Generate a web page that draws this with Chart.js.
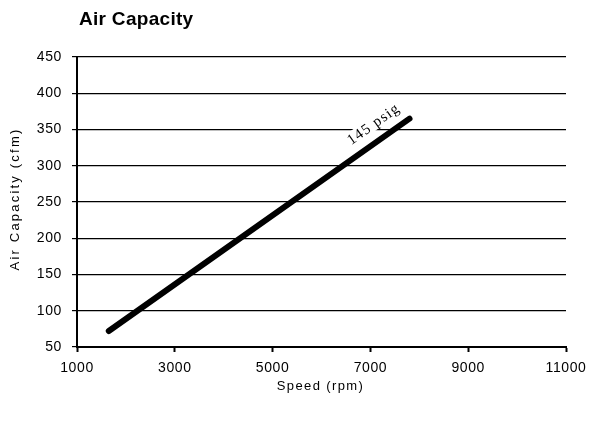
<!DOCTYPE html>
<html><head><meta charset="utf-8">
<script src="https://cdn.jsdelivr.net/npm/chart.js@4"></script>
<style>html,body{margin:0;padding:0;background:#fff}#wrap{width:590px;height:421px}</style>
</head><body><div id="wrap"><canvas id="c" width="590" height="421"></canvas></div>
<script>
const chartTitle = 'Air Capacity';
const xAxisTitle = 'Speed (rpm)';
const yAxisTitle = 'Air Capacity (cfm)';
const seriesName = '145 psig';
const speedRpm = [1650, 7800];
const capacityCfm = [72, 365];
const xTickValues = [1000, 3000, 5000, 7000, 9000, 11000];
const yTickValues = [50, 100, 150, 200, 250, 300, 350, 400, 450];
const seriesLabelAt = [7070, 357];

const points = speedRpm.map((x, i) => ({x: x, y: capacityCfm[i]}));
const SANS = '"Liberation Sans", Arial, sans-serif';

function spaced(ctx, px) { try { ctx.letterSpacing = px + 'px'; } catch (e) {} }

const decor = {
  id: 'decor',
  beforeDraw(chart) { spaced(chart.ctx, 0.6); },
  afterDatasetsDraw(chart) {
    const ctx = chart.ctx, xs = chart.scales.x, ys = chart.scales.y;
    const p0x = xs.getPixelForValue(speedRpm[0]), p0y = ys.getPixelForValue(capacityCfm[0]);
    const p1x = xs.getPixelForValue(speedRpm[speedRpm.length - 1]), p1y = ys.getPixelForValue(capacityCfm[capacityCfm.length - 1]);
    const ang = Math.atan2(p1y - p0y, p1x - p0x);
    const lx = xs.getPixelForValue(seriesLabelAt[0]), ly = ys.getPixelForValue(seriesLabelAt[1]);
    ctx.save();
    ctx.translate(lx, ly);
    ctx.rotate(ang);
    ctx.font = '15px "Liberation Serif", "Times New Roman", serif';
    spaced(ctx, 1.2);
    const w = ctx.measureText(seriesName).width;
    ctx.fillStyle = '#fff';
    ctx.fillRect(-w / 2 - 1, -8, w + 2, 14);
    ctx.fillStyle = '#000';
    ctx.textAlign = 'center';
    ctx.textBaseline = 'middle';
    ctx.fillText(seriesName, 0, 0);
    ctx.restore();
  },
  afterDraw(chart) {
    const ctx = chart.ctx, a = chart.chartArea;
    ctx.save();
    ctx.fillStyle = '#000';
    spaced(ctx, 0.3);
    ctx.font = 'bold 19px ' + SANS;
    ctx.textAlign = 'left';
    ctx.textBaseline = 'alphabetic';
    ctx.fillText(chartTitle, a.left + 2, 25);
    ctx.font = '13px ' + SANS;
    spaced(ctx, 1.4);
    ctx.textAlign = 'center';
    ctx.textBaseline = 'middle';
    ctx.fillText(xAxisTitle, (a.left + a.right) / 2 - 1, 386);
    spaced(ctx, 2.2);
    ctx.translate(15, (a.top + a.bottom) / 2 - 3);
    ctx.rotate(-Math.PI / 2);
    ctx.fillText(yAxisTitle, 0, 0);
    ctx.restore();
    spaced(ctx, 0);
  }
};

new Chart(document.getElementById('c'), {
  type: 'scatter',
  data: {
    datasets: [{
      label: seriesName,
      data: points,
      showLine: true,
      borderColor: '#000',
      borderWidth: 6,
      borderCapStyle: 'round',
      pointRadius: 0,
      pointHoverRadius: 0,
      fill: false
    }]
  },
  options: {
    responsive: false,
    animation: false,
    devicePixelRatio: 1,
    layout: {padding: {left: 0, right: 24, top: 57, bottom: 0}},
    plugins: {legend: {display: false}, tooltip: {enabled: false}, title: {display: false}},
    scales: {
      x: {
        type: 'linear',
        min: xTickValues[0],
        max: xTickValues[xTickValues.length - 1],
        afterBuildTicks: s => { s.ticks = xTickValues.map(v => ({value: v})); },
        afterFit: s => { s.height = 74; s.paddingRight = 0; s.paddingLeft = 0; },
        grid: {drawOnChartArea: false, drawTicks: true, tickLength: 5, tickColor: '#000', tickWidth: 2},
        border: {display: true, color: '#000', width: 2},
        ticks: {color: '#000', font: {family: SANS, size: 14}, padding: 8, maxRotation: 0, callback: v => String(v)},
        title: {display: false}
      },
      y: {
        type: 'linear',
        min: yTickValues[0],
        max: yTickValues[yTickValues.length - 1],
        afterBuildTicks: s => { s.ticks = yTickValues.map(v => ({value: v})); },
        afterFit: s => { s.width = 77; s.paddingTop = 0; s.paddingBottom = 0; },
        grid: {drawOnChartArea: true, drawTicks: true, tickLength: 5, color: '#000', tickColor: '#000', lineWidth: 1.2},
        border: {display: true, color: '#000', width: 2},
        ticks: {color: '#000', font: {family: SANS, size: 14}, padding: 10, callback: v => String(v)},
        title: {display: false}
      }
    }
  },
  plugins: [decor]
});
</script>
</body></html>
